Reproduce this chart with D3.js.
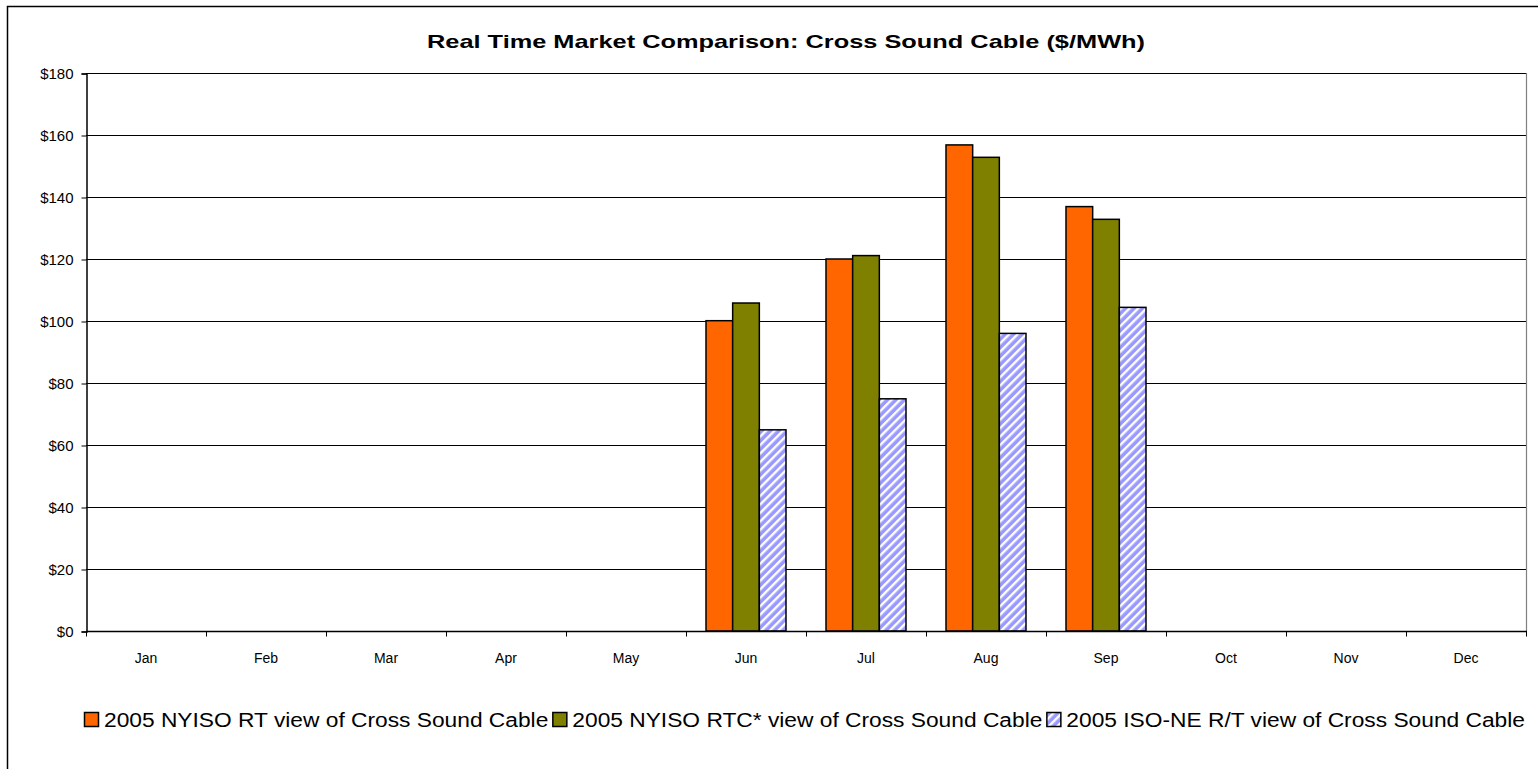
<!DOCTYPE html>
<html>
<head>
<meta charset="utf-8">
<script src="https://cdn.jsdelivr.net/npm/d3@7"></script>
<style>
  html, body { margin: 0; padding: 0; background: #fff; }
  svg { display: block; font-family: "Liberation Sans", Arial, sans-serif; }
</style>
</head>
<body>
<svg id="chart" width="1538" height="769"></svg>
<script>
const months = ["Jan","Feb","Mar","Apr","May","Jun","Jul","Aug","Sep","Oct","Nov","Dec"];
const seriesNames = [
  "2005 NYISO RT view of Cross Sound Cable",
  "2005 NYISO RTC* view of Cross Sound Cable",
  "2005 ISO-NE R/T view of Cross Sound Cable"
];
const nyisoRT  = [null,null,null,null,null,100.1,120.0,156.8,136.9,null,null,null];
const nyisoRTC = [null,null,null,null,null,105.8,121.1,152.8,132.8,null,null,null];
const isoNE    = [null,null,null,null,null,64.9,74.9,96.0,104.4,null,null,null];
const yTicks = [0,20,40,60,80,100,120,140,160,180];
const title = "Real Time Market Comparison: Cross Sound Cable ($/MWh)";

const seriesData = [nyisoRT, nyisoRTC, isoNE];
const fills = ["#FF6600", "#808000", "url(#hatch)"];

const svg = d3.select("#chart");
const W = 1538, H = 769;
const m = {left: 86, top: 73, right: 1526, bottom: 631};

// hatch pattern
const defs = svg.append("defs");
const pat = defs.append("pattern").attr("id","hatch").attr("patternUnits","userSpaceOnUse")
  .attr("width",6).attr("height",6).attr("patternTransform","rotate(45)");
pat.append("rect").attr("width",6).attr("height",6).attr("fill","#9999FF");
pat.append("rect").attr("x",0).attr("y",0).attr("width",2.4).attr("height",6).attr("fill","#FFFFFF");

// outer frame
svg.append("rect").attr("x",7.5).attr("y",6.5).attr("width",W).attr("height",H)
  .attr("fill","none").attr("stroke","#000").attr("stroke-width",1.5);

// title
svg.append("text").attr("x",786).attr("y",48).attr("text-anchor","middle")
  .attr("font-size","19px").attr("font-weight","bold")
  .attr("textLength",718).attr("lengthAdjust","spacingAndGlyphs").text(title);

const x0 = d3.scaleBand().domain(months).range([m.left, m.right]).padding(0);
const bw = x0.bandwidth();
const x1 = d3.scaleBand().domain(d3.range(seriesData.length)).range([bw/6, bw*5/6]).padding(0);
const y = d3.scaleLinear().domain([0,180]).range([m.bottom, m.top]);

// gridlines
svg.append("g").selectAll("line").data(yTicks.filter(d=>d>0)).join("line")
  .attr("x1",m.left).attr("x2",m.right).attr("y1",d=>y(d)+0.5).attr("y2",d=>y(d)+0.5)
  .attr("stroke","#000").attr("stroke-width",1);

// plot area right border
svg.append("line").attr("x1",m.right+0.5).attr("x2",m.right+0.5).attr("y1",m.top).attr("y2",m.bottom)
  .attr("stroke","#808080").attr("stroke-width",1.2);

// bars
const groups = svg.append("g").selectAll("g").data(months).join("g")
  .attr("transform", d => `translate(${x0(d)},0)`);
groups.selectAll("rect").data((mon, mi) => seriesData.map((s, si) => ({si, v: s[mi]})).filter(d => d.v != null))
  .join("rect")
  .attr("x", d => x1(d.si))
  .attr("width", x1.bandwidth())
  .attr("y", d => y(d.v))
  .attr("height", d => y(0) - y(d.v))
  .attr("fill", d => fills[d.si])
  .attr("stroke", "#000").attr("stroke-width", 1.5);

// y axis
const yAxis = d3.axisLeft(y).tickValues(yTicks).tickFormat(d => "$" + d).tickSize(5).tickPadding(8);
const gy = svg.append("g").attr("transform", `translate(${m.left+0.5},0.5)`).call(yAxis);
gy.select(".domain").attr("stroke","#000").attr("stroke-width",1.5);
gy.selectAll(".tick line").attr("stroke","#000");
gy.selectAll("text").attr("font-size","15px").attr("fill","#000")
  .attr("font-family","Liberation Sans, Arial, sans-serif").attr("dy","0.35em");

// x axis
const gx = svg.append("g").attr("transform", `translate(0,${m.bottom+0.5})`);
gx.append("line").attr("x1",m.left).attr("x2",m.right+1).attr("y1",0).attr("y2",0)
  .attr("stroke","#000").attr("stroke-width",1.5);
const bounds = months.map(d => x0(d)).concat([m.right]);
gx.selectAll("line.tk").data(bounds).join("line").attr("class","tk")
  .attr("x1",d=>d+0.5).attr("x2",d=>d+0.5).attr("y1",0).attr("y2",5).attr("stroke","#000");
gx.selectAll("text").data(months).join("text")
  .attr("x", d => x0(d) + bw/2).attr("y", 31).attr("text-anchor","middle")
  .attr("font-size","14px").text(d => d);

// legend
const lg = svg.append("g");
const fs = 20;
let items = seriesNames.map((n, i) => ({n, i}));
const tmp = lg.append("text").attr("font-size", fs+"px");
items.forEach(it => { tmp.text(it.n); it.w = tmp.node().getComputedTextLength(); });
tmp.remove();
const sq = 14, gapSq = 6, gapItem = 4;
const legL = 84, legR = 1525;
const natural = d3.sum(items, it => it.w);
const avail = (legR - legL) - items.length*(sq+gapSq) - gapItem*(items.length-1);
const k = avail / natural;
let cx = legL;
items.forEach(it => {
  const w = it.w * k;
  lg.append("rect").attr("x", cx + 0.5).attr("y", 712.5).attr("width", sq).attr("height", sq)
    .attr("fill", fills[it.i]).attr("stroke","#000").attr("stroke-width",1.5);
  lg.append("text").attr("x", cx + sq + gapSq).attr("y", 727).attr("font-size", fs+"px")
    .attr("textLength", w).attr("lengthAdjust","spacingAndGlyphs").text(it.n);
  cx += sq + gapSq + w + gapItem;
});
</script>
</body>
</html>
